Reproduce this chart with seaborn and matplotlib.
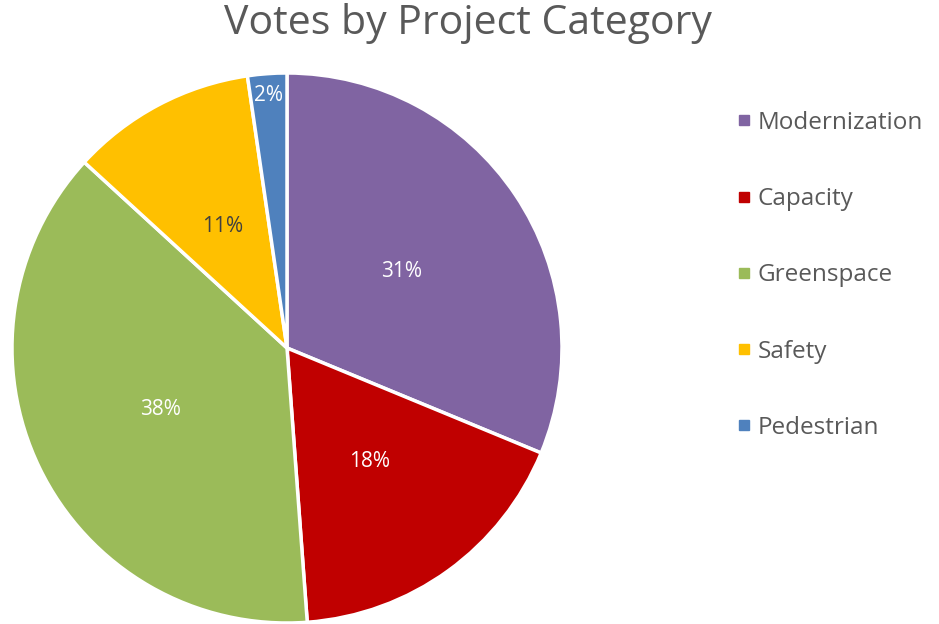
import numpy as np
import matplotlib
matplotlib.use("Agg")
import matplotlib.pyplot as plt
import seaborn as sns
from matplotlib.lines import Line2D

categories = ["Modernization", "Capacity", "Greenspace", "Safety", "Pedestrian"]
votes = [31.25, 17.6, 38.0, 10.9, 2.3]
pct_labels = ["31%", "18%", "38%", "11%", "2%"]
colors = ["#8064A2", "#C00000", "#9BBB59", "#FFC000", "#4F81BD"]
label_colors = ["white", "white", "white", "#404040", "white"]
title = "Votes by Project Category"

sns.set_theme(style="white")
plt.rcParams["font.family"] = ["Open Sans", "DejaVu Sans"]

fig = plt.figure(figsize=(9.39, 6.24), dpi=100)
ax = fig.add_axes([12 / 939, 1 / 624, 550 / 939, 550 / 624])

wedges, _ = ax.pie(
    votes,
    colors=colors,
    startangle=90,
    counterclock=False,
    radius=1.0,
    wedgeprops=dict(edgecolor="white", linewidth=2.5),
)
ax.set_xlim(-1, 1)
ax.set_ylim(-1, 1)
ax.set_aspect("equal")
ax.axis("off")

dists = [0.5, 0.51, 0.51, 0.5, 0.92]
for w, lab, col, d in zip(wedges, pct_labels, label_colors, dists):
    mid = np.deg2rad((w.theta1 + w.theta2) / 2)
    ax.text(d * np.cos(mid), d * np.sin(mid), lab, ha="center", va="center",
            color=col, fontsize=15)

fig.text(468 / 939, 1 - 24 / 624, title, ha="center", va="center",
         fontsize=29.5, color="#595959")

handles = [Line2D([0], [0], marker="s", linestyle="none", markersize=7,
                  markerfacecolor=c, markeredgecolor=c) for c in colors]
leg = fig.legend(handles, categories, loc="upper left",
                 bbox_to_anchor=(710 / 939, 1 - 89 / 624), frameon=False,
                 fontsize=17.5, labelspacing=2.15, handletextpad=0.05,
                 handlelength=1.0, labelcolor="#595959")

fig.savefig("out.png", dpi=100)
